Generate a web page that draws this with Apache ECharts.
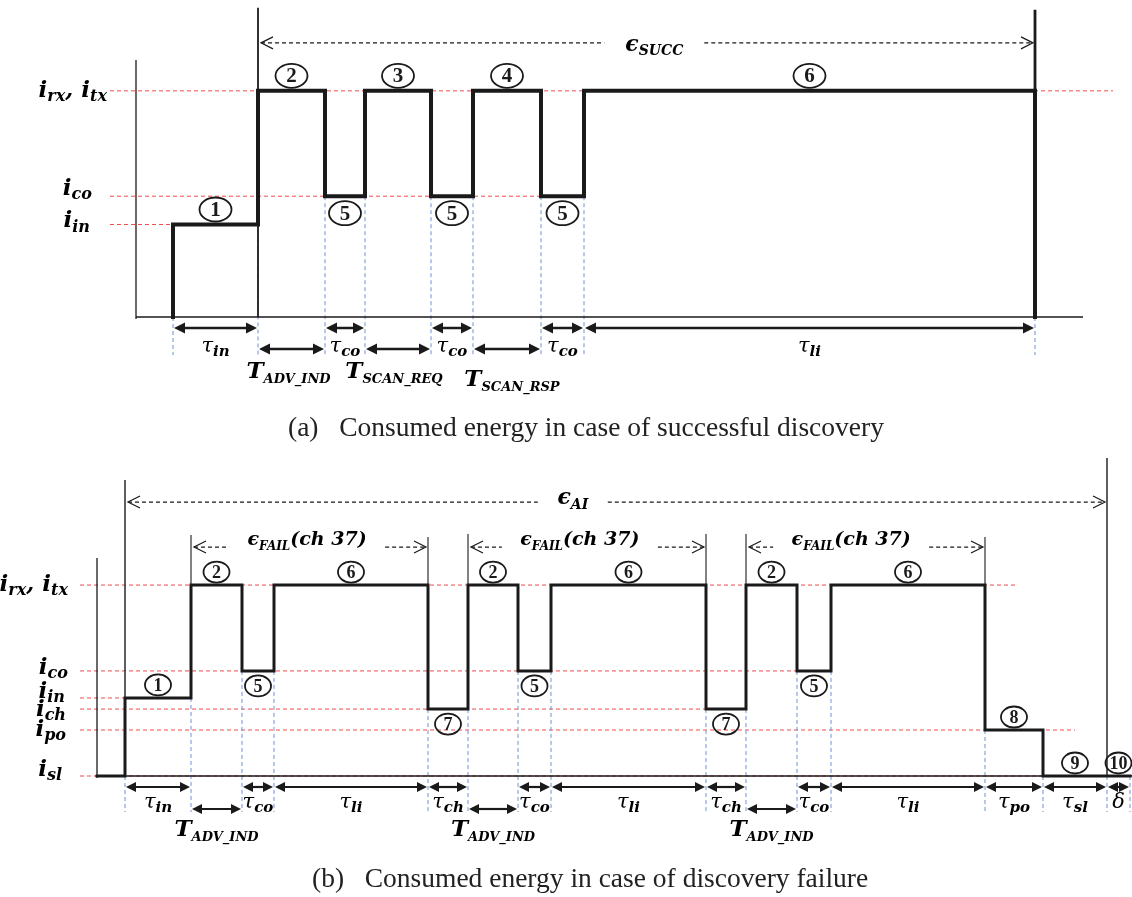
<!DOCTYPE html>
<html>
<head>
<meta charset="utf-8">
<title>Consumed energy</title>
<style>
  html, body { margin: 0; padding: 0; background: #fff; }
  #chart { width: 1132px; height: 897px; }
</style>
<script src="https://cdn.jsdelivr.net/npm/echarts@6/dist/echarts.min.js"></script>
</head>
<body>
<div id="chart"></div>
<script>
// (a) successful discovery: breakpoints (time units) and the current level of each segment between them
const aTimes = [37, 122, 189, 229, 295, 337, 405, 448, 899];
const aLevels = [3.6, 8.8, 4.7, 8.8, 4.7, 8.8, 4.7, 8.8];
const aStateTags = ['1', '2', '5', '3', '5', '4', '5', '6'];
const aDurations = ['τ|in', 'T|ADV_IND', 'τ|co', 'T|SCAN_REQ', 'τ|co', 'T|SCAN_RSP', 'τ|co', 'τ|li'];
const aLevelNames = ['i|rx|, i|tx', 'i|co', 'i|in'];
const aLevelTicks = [8.8, 4.7, 3.6];
const aLevelEnds = [977, 448, 122];
const aSpans = [[122, 899]];
const aSpanNames = ['SUCC'];

// (b) discovery failure
const bTimes = [0, 28, 94, 145, 177, 331, 371, 421, 454, 609, 649, 700, 734, 888, 946, 1010, 1033];
const bLevels = [0, 3.58, 8.76, 4.82, 8.76, 3.07, 8.76, 4.82, 8.76, 3.07, 8.76, 4.82, 8.76, 2.11, 0, 0];
const bStateTags = ['', '1', '2', '5', '6', '7', '2', '5', '6', '7', '2', '5', '6', '8', '9', '10'];
const bDurations = ['', 'τ|in', 'T|ADV_IND', 'τ|co', 'τ|li', 'τ|ch', 'T|ADV_IND', 'τ|co', 'τ|li',
  'τ|ch', 'T|ADV_IND', 'τ|co', 'τ|li', 'τ|po', 'τ|sl', 'δ|'];
const bLevelNames = ['i|rx|, i|tx', 'i|co', 'i|in', 'i|ch', 'i|po', 'i|sl'];
const bLevelTicks = [8.76, 4.82, 3.58, 3.07, 2.11, 0];
const bLevelEnds = [920, 700, 28, 649, 978, 1035];
const bSpans = [[28, 1010], [94, 331], [371, 609], [649, 888]];
const bSpanNames = ['AI', 'FAIL', 'FAIL', 'FAIL'];

const MATH = 'DejaVu Serif';
const INK = '#1a1a1a';

const rich = {
  m: { fontFamily: MATH, fontStyle: 'italic', fontSize: 21, lineHeight: 26, color: INK },
  s: { fontFamily: MATH, fontStyle: 'italic', fontWeight: 'bold', fontSize: 15, lineHeight: 15, verticalAlign: 'bottom', color: INK },
  T: { fontFamily: MATH, fontStyle: 'italic', fontWeight: 'bold', fontSize: 23, lineHeight: 28, color: INK },
  ts: { fontFamily: MATH, fontStyle: 'italic', fontWeight: 'bold', fontSize: 13, lineHeight: 13, verticalAlign: 'bottom', color: INK },
  i: { fontFamily: MATH, fontStyle: 'italic', fontWeight: 'bold', fontSize: 23, lineHeight: 28, color: INK },
  is: { fontFamily: MATH, fontStyle: 'italic', fontWeight: 'bold', fontSize: 16, lineHeight: 16, verticalAlign: 'bottom', color: INK },
  e: { fontFamily: MATH, fontStyle: 'italic', fontWeight: 'bold', fontSize: 22, lineHeight: 28, color: INK },
  es: { fontFamily: MATH, fontStyle: 'italic', fontWeight: 'bold', fontSize: 14, lineHeight: 14, verticalAlign: 'bottom', color: INK },
  f: { fontFamily: MATH, fontStyle: 'italic', fontWeight: 'bold', fontSize: 19, lineHeight: 26, color: INK },
  fs: { fontFamily: MATH, fontStyle: 'italic', fontWeight: 'bold', fontSize: 12, lineHeight: 12, verticalAlign: 'bottom', color: INK }
};

function durationText(d) {
  const [sym, sub] = d.split('|');
  if (sym === 'T') return '{T|T}{ts|' + sub + '}';
  return sub ? '{m|' + sym + '}{s|' + sub + '}' : '{m|' + sym + '}';
}

function levelText(name) {
  const parts = name.split('|');
  let out = '';
  parts.forEach((p, k) => { out += k % 2 === 0 ? '{i|' + p + '}' : '{is|' + p + '}'; });
  return out;
}

function spanText(name) {
  return name === 'FAIL' ? '{f|ϵ}{fs|FAIL}{f|(ch 37)}' : '{e|ϵ}{es|' + name + '}';
}

function buildProfile(times, levels) {
  const pts = [[times[0], 0]];
  levels.forEach((lv, k) => {
    pts.push([times[k], lv]);
    pts.push([times[k + 1], lv]);
  });
  pts.push([times[times.length - 1], 0]);
  return pts;
}

function panelSeries(idx, p, lay) {
  const axes = { xAxisIndex: idx, yAxisIndex: idx };
  const top = Math.max.apply(null, p.levels);
  const series = [];

  // axis lines
  series.push(Object.assign({
    type: 'custom', silent: true, z: 2,
    data: [[0, 0]],
    renderItem: (params, api) => {
      const o = api.coord([0, 0]);
      const t = api.coord([0, 10]);
      const r = api.coord([lay.axisEnd, 0]);
      const st = { stroke: INK, lineWidth: 1.3 };
      return { type: 'group', children: [
        { type: 'line', shape: { x1: o[0], y1: t[1], x2: o[0], y2: o[1] + 2 }, style: st },
        { type: 'line', shape: { x1: o[0], y1: o[1], x2: r[0], y2: r[1] }, style: st }
      ] };
    }
  }, axes));

  // red dashed current levels + their labels
  series.push(Object.assign({
    type: 'custom', silent: true, z: 1,
    data: p.levelTicks.map((v, k) => [lay.levelStart, p.levelEnds[k], v]),
    renderItem: (params, api) => {
      const k = params.dataIndex;
      const a = api.coord([api.value(0), api.value(2)]);
      const b = api.coord([api.value(1), api.value(2)]);
      const o = api.coord([0, api.value(2)]);
      const off = lay.levelLabelOffsets[k];
      return { type: 'group', children: [
        { type: 'line', shape: { x1: a[0], y1: a[1], x2: b[0], y2: b[1] },
          style: { stroke: '#ef4b4b', lineWidth: 1, lineDash: [4, 3] } },
        { type: 'text', x: o[0] + off[0], y: o[1] + off[1],
          style: { text: levelText(p.levelNames[k]), rich: rich, align: 'right', verticalAlign: 'middle' } }
      ] };
    }
  }, axes));

  // blue dashed guides at every breakpoint
  series.push(Object.assign({
    type: 'custom', silent: true, z: 1,
    data: p.times.map((t, k) => {
      const before = k > 0 ? p.levels[k - 1] : 0;
      const after = k < p.levels.length ? p.levels[k] : 0;
      return [t, Math.min(before, after)];
    }).filter((d, k) => k > 0 || p.times[0] > 0),
    renderItem: (params, api) => {
      const a = api.coord([api.value(0), api.value(1)]);
      const b = api.coord([api.value(0), 0]);
      return { type: 'line', shape: { x1: a[0], y1: a[1], x2: a[0], y2: b[1] + lay.guideDrop },
        style: { stroke: '#6f93d6', lineWidth: 1, lineDash: [4, 3] } };
    }
  }, axes));

  // current profile
  series.push(Object.assign({
    type: 'line', data: buildProfile(p.times, p.levels), symbol: 'none', clip: false, z: 4,
    lineStyle: { color: INK, width: lay.profileWidth, join: 'miter', cap: 'square' },
    silent: true
  }, axes));

  // duration arrows
  const heads = (x, y, dir, L, W) => ({
    type: 'polygon', shape: { points: [[x, y], [x + dir * L, y - W], [x + dir * L, y + W]] },
    style: { fill: INK }
  });
  series.push(Object.assign({
    type: 'custom', silent: true, z: 3,
    data: p.durations.map((d, k) => [p.times[k], p.times[k + 1]]).filter((d, k) => p.durations[k]),
    renderItem: (params, api) => {
      const labels = p.durations.filter(d => d);
      const d = labels[params.dataIndex];
      const row = d[0] === 'T' ? 1 : 0;
      const a = api.coord([api.value(0), 0]);
      const b = api.coord([api.value(1), 0]);
      const y = a[1] + lay.arrowRows[row];
      const L = lay.head[0], W = lay.head[1];
      const extra = lay.labelNudge[d] || [0, 0];
      return { type: 'group', children: [
        { type: 'line', shape: { x1: a[0] + L - 1, y1: y, x2: b[0] - L + 1, y2: y },
          style: { stroke: INK, lineWidth: lay.arrowWidth } },
        heads(a[0] + 1, y, 1, L, W),
        heads(b[0] - 1, y, -1, L, W),
        { type: 'text', x: (a[0] + b[0]) / 2 + extra[0], y: y + lay.labelDrop[row] + extra[1],
          style: { text: durationText(d), rich: rich, align: 'center', verticalAlign: 'middle' } }
      ] };
    }
  }, axes));

  // circled state numbers
  series.push(Object.assign({
    type: 'custom', silent: true, z: 5,
    data: p.tags.map((t, k) => [(p.times[k] + p.times[k + 1]) / 2, p.levels[k]]).filter((d, k) => p.tags[k]),
    renderItem: (params, api) => {
      const tags = p.tags.filter(t => t);
      const tag = tags[params.dataIndex];
      const c = api.coord([api.value(0), api.value(1)]);
      const below = tag === '5' || tag === '7';
      const cy = c[1] + (below ? lay.tagBelow : -lay.tagAbove);
      return { type: 'group', children: [
        { type: 'ellipse', shape: { cx: c[0], cy: cy, rx: lay.tagSize[0], ry: lay.tagSize[1] },
          style: { fill: 'rgba(255,255,255,0)', stroke: INK, lineWidth: 1.8 } },
        { type: 'text', x: c[0], y: cy + 1,
          style: { text: tag, fontFamily: 'Liberation Serif', fontWeight: 'bold', fontSize: lay.tagFont,
            fill: INK, align: 'center', verticalAlign: 'middle' } }
      ] };
    }
  }, axes));

  // energy spans (dashed, open arrow heads) and tall boundary markers
  series.push(Object.assign({
    type: 'custom', silent: true, z: 3,
    data: p.spans,
    renderItem: (params, api) => {
      const k = params.dataIndex;
      const sl = lay.spans[k];
      const a = api.coord([api.value(0), top]);
      const b = api.coord([api.value(1), top]);
      const base = api.coord([0, 0])[1];
      const y = a[1] + sl.dy;
      const x0 = a[0] + 3, x1 = b[0] - 2;
      const mid = a[0] + (b[0] - a[0]) * sl.frac;
      const dash = { stroke: INK, lineWidth: 1.2, lineDash: [4, 3] };
      const solid = { stroke: INK, lineWidth: 1.2, fill: null };
      const markBottom = sl.toBase ? base : a[1];
      return { type: 'group', children: [
        { type: 'line', shape: { x1: a[0], y1: a[1] + sl.mark[0], x2: a[0], y2: markBottom }, style: { stroke: INK, lineWidth: sl.markWidth[0] } },
        { type: 'line', shape: { x1: b[0], y1: a[1] + sl.mark[1], x2: b[0], y2: sl.toBase ? base : a[1] }, style: { stroke: INK, lineWidth: sl.markWidth[1] } },
        { type: 'line', shape: { x1: x0, y1: y, x2: mid - sl.gap, y2: y }, style: dash },
        { type: 'line', shape: { x1: mid + sl.gap, y1: y, x2: x1, y2: y }, style: dash },
        { type: 'polyline', shape: { points: [[x0 + 12, y - 6], [x0, y], [x0 + 12, y + 6]] }, style: solid },
        { type: 'polyline', shape: { points: [[x1 - 12, y - 6], [x1, y], [x1 - 12, y + 6]] }, style: solid },
        { type: 'text', x: mid, y: y + sl.labelDy,
          style: { text: spanText(p.spanNames[k]), rich: rich, align: 'center', verticalAlign: 'middle' } }
      ] };
    }
  }, axes));

  return series;
}

const panelA = {
  times: aTimes, levels: aLevels, tags: aStateTags, durations: aDurations,
  levelNames: aLevelNames, levelTicks: aLevelTicks, levelEnds: aLevelEnds,
  spans: aSpans, spanNames: aSpanNames
};
const panelB = {
  times: bTimes, levels: bLevels, tags: bStateTags, durations: bDurations,
  levelNames: bLevelNames, levelTicks: bLevelTicks, levelEnds: bLevelEnds,
  spans: bSpans, spanNames: bSpanNames
};

const layoutA = {
  axisEnd: 947, levelStart: -26, profileWidth: 4,
  levelLabelOffsets: [[-29, 0], [-44, -7], [-46, -3]],
  guideDrop: 38, arrowRows: [11, 32], labelDrop: [19, 23], arrowWidth: 2.5, head: [11, 5.5],
  labelNudge: { 'T|ADV_IND': [-3, 0], 'T|SCAN_RSP': [5, 8], 'T|SCAN_REQ': [-4, 0] },
  tagSize: [16, 12], tagAbove: 15, tagBelow: 17, tagFont: 21,
  spans: [{ dy: -48, frac: 0.51, gap: 50, labelDy: 2, mark: [-83, -81], markWidth: [1.8, 2.8], toBase: true }]
};
const layoutB = {
  axisEnd: 1035, levelStart: -17, profileWidth: 3,
  levelLabelOffsets: [[-29, 0], [-29, -3], [-32, -6], [-31, 1], [-31, 0], [-35, -6]],
  guideDrop: 36, arrowRows: [11, 33], labelDrop: [16, 21], arrowWidth: 2.2, head: [10, 5],
  labelNudge: {},
  tagSize: [13, 10.5], tagAbove: 13, tagBelow: 15, tagFont: 18,
  spans: [
    { dy: -83, frac: 0.456, gap: 35, labelDy: -4, mark: [-105, -127], markWidth: [1.4, 1.4], toBase: true },
    { dy: -38, frac: 0.49, gap: 78, labelDy: -7, mark: [-50, -48], markWidth: [1.1, 1.1], toBase: false },
    { dy: -38, frac: 0.47, gap: 78, labelDy: -7, mark: [-51, -51], markWidth: [1.1, 1.1], toBase: false },
    { dy: -38, frac: 0.44, gap: 78, labelDy: -7, mark: [-51, -48], markWidth: [1.1, 1.1], toBase: false }
  ]
};

const chart = echarts.init(document.getElementById('chart'), null, { renderer: 'canvas' });

const captionStyle = { fontFamily: 'Liberation Serif', fontWeight: 'normal', fontSize: 27.5, color: '#222' };

const option = {
  animation: false,
  backgroundColor: '#fff',
  title: [
    { text: '(a)   Consumed energy in case of successful discovery', left: 288, top: 415, padding: 0, textStyle: captionStyle },
    { text: '(b)   Consumed energy in case of discovery failure', left: 312, top: 866, padding: 0, textStyle: captionStyle }
  ],
  grid: [
    { left: 136, top: 60, width: 947, height: 257 },
    { left: 97, top: 558, width: 1035, height: 218 }
  ],
  xAxis: [
    { type: 'value', gridIndex: 0, min: 0, max: 947, show: false },
    { type: 'value', gridIndex: 1, min: 0, max: 1035, show: false }
  ],
  yAxis: [
    { type: 'value', gridIndex: 0, min: 0, max: 10, show: false },
    { type: 'value', gridIndex: 1, min: 0, max: 10, show: false }
  ],
  series: panelSeries(0, panelA, layoutA).concat(panelSeries(1, panelB, layoutB))
};

chart.setOption(option);
window.addEventListener('resize', () => chart.resize());
</script>
</body>
</html>
